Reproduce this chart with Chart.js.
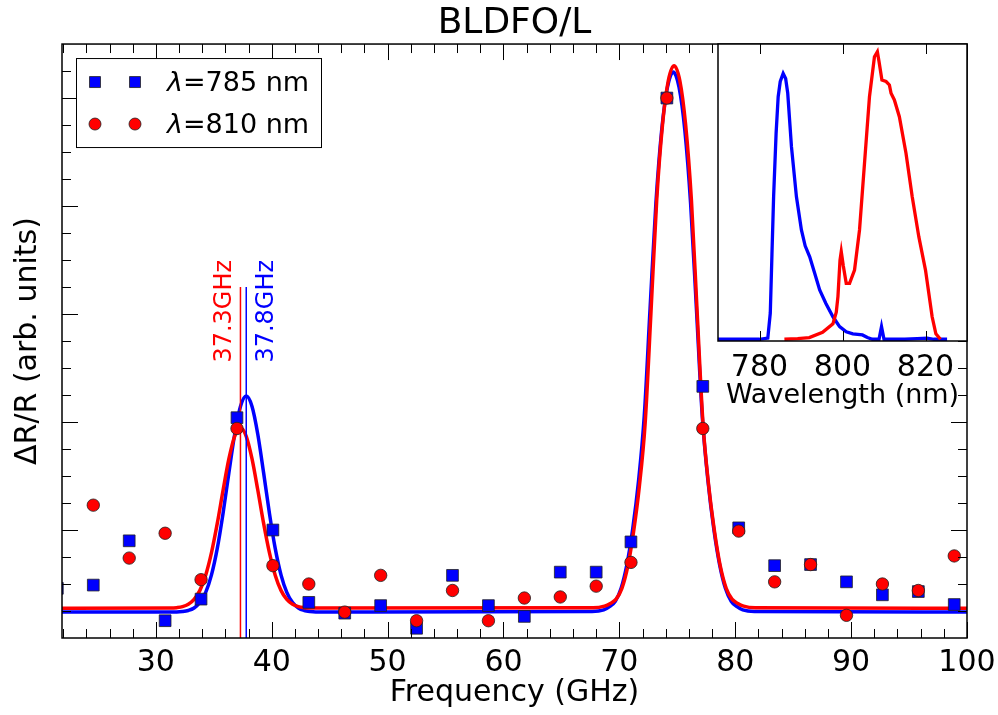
<!DOCTYPE html>
<html>
<head>
<meta charset="utf-8">
<script src="https://cdn.jsdelivr.net/npm/chart.js@4.4.1/dist/chart.umd.min.js"></script>
<style>
  html, body { margin: 0; padding: 0; background: #fff; }
  #wrap { position: relative; width: 998px; height: 715px; }
  #main { position: absolute; left: 0; top: 0; }
  #inset { position: absolute; left: 700px; top: 30px; }
</style>
</head>
<body>
<div id="wrap">
  <canvas id="main" width="998" height="715"></canvas>
  <canvas id="inset" width="298" height="400"></canvas>
</div>
<script>
// measured points (GHz, arb. units)
const freq785 = [21.5, 24.6, 27.7, 30.8, 33.9, 37.0, 40.1, 43.2, 46.3, 49.4, 52.5, 55.6, 58.7,
  61.8, 64.9, 68.0, 71.0, 74.1, 77.2, 80.3, 83.4, 86.5, 89.6, 92.7, 95.8, 98.9];
const amp785 = [0.46, 0.49, 0.90, 0.16, 0.36, 2.04, 1.00, 0.33, 0.23, 0.30, 0.09, 0.58, 0.30,
  0.20, 0.61, 0.61, 0.89, 5.00, 2.33, 1.02, 0.67, 0.68, 0.52, 0.40, 0.43, 0.31];
const freq810 = [24.6, 27.7, 30.8, 33.9, 37.0, 40.1, 43.2, 46.3, 49.4, 52.5, 55.6, 58.7,
  61.8, 64.9, 68.0, 71.0, 74.1, 77.2, 80.3, 83.4, 86.5, 89.6, 92.7, 95.8, 98.9];
const amp810 = [1.23, 0.74, 0.97, 0.54, 1.94, 0.67, 0.50, 0.24, 0.58, 0.16, 0.44, 0.16,
  0.37, 0.38, 0.48, 0.70, 5.00, 1.94, 0.99, 0.52, 0.68, 0.21, 0.50, 0.44, 0.76];

// fitted curves
const fitFreq785 = [21.9, 31.8, 32.3, 32.8, 33.3, 33.8, 34.3, 34.8, 35.3, 35.8, 36.3, 36.8, 37.3,
  37.8, 38.3, 38.8, 39.3, 39.8, 40.3, 40.8, 41.3, 41.8, 42.3, 42.8, 43.3, 43.8,
  67.65, 68.65, 69.15, 69.65, 70.15, 70.65, 71.15, 71.65, 72.15, 72.65, 73.15, 73.65, 74.15,
  74.65, 75.15, 75.65, 76.15, 76.65, 77.15, 77.65, 78.15, 78.65, 79.15, 79.65, 80.15, 80.65,
  81.65, 100];
const fit785 = [0.24, 0.241, 0.245, 0.255, 0.278, 0.328, 0.423, 0.585, 0.83, 1.156, 1.529, 1.885, 2.144,
  2.24, 2.144, 1.885, 1.529, 1.156, 0.83, 0.585, 0.423, 0.328, 0.278, 0.255, 0.245, 0.241,
  0.245, 0.26, 0.29, 0.34, 0.46, 0.68, 1.01, 1.45, 2.06, 3.05, 4.02, 4.70, 5.10,
  5.24, 5.10, 4.70, 4.02, 3.05, 2.06, 1.45, 1.01, 0.68, 0.46, 0.34, 0.29, 0.26,
  0.245, 0.24];
const fitFreq810 = [21.9, 31.3, 31.8, 32.3, 32.8, 33.3, 33.8, 34.3, 34.8, 35.3, 35.8, 36.3, 36.8,
  37.3, 37.8, 38.3, 38.8, 39.3, 39.8, 40.3, 40.8, 41.3, 41.8, 42.3, 42.8, 43.3,
  67.72, 68.72, 69.22, 69.72, 70.22, 70.72, 71.22, 71.72, 72.22, 72.72, 73.22, 73.72, 74.22,
  74.72, 75.22, 75.72, 76.22, 76.72, 77.22, 77.72, 78.22, 78.72, 79.22, 79.72, 80.22, 80.72,
  81.72, 100];
const fit810 = [0.275, 0.277, 0.281, 0.29, 0.312, 0.357, 0.441, 0.582, 0.79, 1.061, 1.368, 1.658, 1.868,
  1.945, 1.868, 1.658, 1.368, 1.061, 0.79, 0.582, 0.441, 0.357, 0.312, 0.29, 0.281, 0.277,
  0.28, 0.295, 0.32, 0.36, 0.46, 0.66, 0.98, 1.40, 1.98, 3.00, 4.05, 4.75, 5.16,
  5.30, 5.16, 4.75, 4.05, 3.00, 1.98, 1.40, 0.98, 0.66, 0.46, 0.36, 0.32, 0.295,
  0.28, 0.275];

const peakFreqs = [37.3, 37.8];
const peakTexts = ['37.3GHz', '37.8GHz'];
const xTicks = [30, 40, 50, 60, 70, 80, 90, 100];

// inset: laser spectra (nm, normalised)
const wl785 = [770, 775, 780, 782.0, 782.6, 783.0, 783.4, 784.0, 784.5, 785.0, 785.7, 786.3, 786.8,
  787.7, 788.9, 790.1, 791.0, 792.1, 793.3, 794.5, 796.0, 797.7, 799.3, 800.9, 802.5, 804.8,
  806.0, 807.2, 808.8, 809.4, 810.0, 812, 815, 818, 820.4, 822, 825.2];
const spec785 = [0.006, 0.006, 0.006, 0.01, 0.097, 0.30, 0.50, 0.72, 0.847, 0.90, 0.928, 0.91, 0.86,
  0.674, 0.50, 0.385, 0.33, 0.292, 0.235, 0.177, 0.13, 0.084, 0.05, 0.032, 0.025, 0.021,
  0.012, 0.006, 0.006, 0.05, 0.006, 0.006, 0.006, 0.008, 0.01, 0.006, 0.006];
const wl810 = [786.0, 789.2, 792.0, 795.2, 797.7, 798.5, 798.9, 799.4, 799.7, 800.2, 800.9, 801.7,
  802.9, 804.1, 805.3, 806.5, 807.7, 808.4, 808.8, 809.5, 810.5, 811.3, 811.7, 812.5, 813.7,
  815.3, 816.8, 818.4, 820.0, 821.6, 822.5, 823.6];
const spec810 = [0.006, 0.008, 0.012, 0.03, 0.06, 0.10, 0.154, 0.28, 0.31, 0.26, 0.20, 0.20,
  0.246, 0.385, 0.616, 0.847, 0.986, 1.003, 0.969, 0.905, 0.90, 0.888, 0.859, 0.836, 0.778,
  0.651, 0.50, 0.361, 0.246, 0.084, 0.025, 0.006];
const wlTicks = [780, 800, 820];

Chart.defaults.font.family = "'DejaVu Sans', sans-serif";
Chart.defaults.color = '#000';

const pts = (xs, ys) => xs.map((v, i) => ({ x: v, y: ys[i] }));

// matplotlib style ticks pointing inwards + frame
const innerTicks = {
  id: 'innerTicks',
  afterDraw(chart) {
    const { ctx, chartArea: a, scales: { x, y } } = chart;
    ctx.save();
    ctx.strokeStyle = '#000';
    ctx.lineWidth = 1;
    ctx.beginPath();
    for (let v = 22; v <= 100; v += 2) {
      const px = Math.round(x.getPixelForValue(v)) + 0.5;
      const len = v % 10 === 0 ? 16 : 9;
      ctx.moveTo(px, a.bottom); ctx.lineTo(px, a.bottom - len);
      ctx.moveTo(px, a.top); ctx.lineTo(px, a.top + len);
    }
    for (let i = 1; i < 22; i++) {
      const py = Math.round(y.getPixelForValue(i * 0.25)) + 0.5;
      const len = i % 4 === 0 ? 16 : 9;
      ctx.moveTo(a.left, py); ctx.lineTo(a.left + len, py);
      ctx.moveTo(a.right, py); ctx.lineTo(a.right - len, py);
    }
    ctx.stroke();
    ctx.lineWidth = 1.5;
    ctx.strokeRect(a.left, a.top, a.right - a.left, a.bottom - a.top);

    // legend with two markers per row
    const bx = a.left + 14, by = a.top + 14;
    ctx.fillStyle = '#fff';
    ctx.fillRect(bx, by, 245, 89);
    ctx.lineWidth = 1;
    ctx.strokeRect(bx + 0.5, by + 0.5, 245, 89);
    const rows = [
      { y: a.top + 38, color: '#0000ff', square: true, text: '=785 nm' },
      { y: a.top + 80, color: '#ff0000', square: false, text: '=810 nm' }
    ];
    rows.forEach(r => {
      [a.left + 33, a.left + 73].forEach(mx => {
        ctx.beginPath();
        if (r.square) ctx.rect(mx - 5.5, r.y - 5.5, 11, 11);
        else ctx.arc(mx, r.y, 6, 0, Math.PI * 2);
        ctx.fillStyle = r.color;
        ctx.fill();
        ctx.lineWidth = 0.8;
        ctx.strokeStyle = '#222';
        ctx.stroke();
      });
      ctx.fillStyle = '#000';
      ctx.textBaseline = 'middle';
      ctx.textAlign = 'left';
      ctx.font = "italic 27px 'DejaVu Sans'";
      const tx = a.left + 105;
      ctx.fillText('λ', tx, r.y + 2);
      const w = ctx.measureText('λ').width;
      ctx.font = "27px 'DejaVu Sans'";
      ctx.fillText(r.text, tx + w, r.y + 2);
    });
    ctx.restore();
  }
};

const peakLabels = {
  id: 'peakLabels',
  afterDatasetsDraw(chart) {
    const { ctx, scales: { x, y } } = chart;
    const colors = ['#ff0000', '#0000ff'];
    const shift = [-16, 20.5];
    ctx.save();
    ctx.font = "24px 'DejaVu Sans'";
    ctx.textBaseline = 'middle';
    ctx.textAlign = 'left';
    peakFreqs.forEach((f, i) => {
      ctx.save();
      ctx.translate(x.getPixelForValue(f) + shift[i], y.getPixelForValue(2.55));
      ctx.rotate(-Math.PI / 2);
      ctx.fillStyle = colors[i];
      ctx.fillText(peakTexts[i], 0, 0);
      ctx.restore();
    });
    ctx.restore();
  }
};

new Chart(document.getElementById('main'), {
  type: 'scatter',
  data: {
    datasets: [
      {
        type: 'line', label: 'fit 785', data: pts(fitFreq785, fit785),
        borderColor: '#0000ff', borderWidth: 3.5, pointRadius: 0,
        cubicInterpolationMode: 'monotone', order: 6
      },
      {
        type: 'line', label: 'fit 810', data: pts(fitFreq810, fit810),
        borderColor: '#ff0000', borderWidth: 3.5, pointRadius: 0,
        cubicInterpolationMode: 'monotone', order: 5
      },
      {
        type: 'line', label: peakTexts[0],
        data: [{ x: peakFreqs[0], y: 0 }, { x: peakFreqs[0], y: 3.25 }],
        borderColor: '#ff0000', borderWidth: 1.5, pointRadius: 0, order: 4
      },
      {
        type: 'line', label: peakTexts[1],
        data: [{ x: peakFreqs[1], y: 0 }, { x: peakFreqs[1], y: 3.25 }],
        borderColor: '#0000ff', borderWidth: 1.5, pointRadius: 0, order: 3
      },
      {
        label: 'λ=785 nm', data: pts(freq785, amp785),
        pointStyle: 'rect', pointRadius: 8.3,
        backgroundColor: '#0000ff', borderColor: '#222', borderWidth: 0.8, order: 2
      },
      {
        label: 'λ=810 nm', data: pts(freq810, amp810),
        pointStyle: 'circle', pointRadius: 6.2,
        backgroundColor: '#ff0000', borderColor: '#222', borderWidth: 0.8, order: 1
      }
    ]
  },
  options: {
    responsive: false,
    animation: false,
    devicePixelRatio: 1,
    layout: { autoPadding: false, padding: { left: 0, top: 0, right: 31, bottom: 0 } },
    plugins: {
      legend: { display: false },
      tooltip: { enabled: false },
      title: {
        display: true, text: 'BLDFO/L', fullSize: false, color: '#000',
        font: { size: 36, weight: 'normal', lineHeight: 1.14 },
        padding: { top: 3, bottom: 0 }
      }
    },
    scales: {
      x: {
        type: 'linear', min: 21.9, max: 100,
        afterBuildTicks: s => { s.ticks = xTicks.map(v => ({ value: v })); },
        afterFit: s => { s.height = 77; s.paddingLeft = 0; s.paddingRight = 0; },
        grid: { display: false, drawTicks: false },
        border: { display: false },
        ticks: { font: { size: 30 }, padding: 7, maxRotation: 0, autoSkip: false, color: '#000' },
        title: { display: true, text: 'Frequency (GHz)', font: { size: 30 }, padding: { top: 0, bottom: 4 }, color: '#000' }
      },
      y: {
        min: 0, max: 5.5,
        afterFit: s => { s.width = 62; },
        grid: { display: false, drawTicks: false },
        border: { display: false },
        ticks: { display: false },
        title: { display: true, text: 'ΔR/R (arb. units)', font: { size: 30 }, padding: { top: 10, bottom: 0 }, color: '#000' }
      }
    }
  },
  plugins: [innerTicks, peakLabels]
});

const insetFrame = {
  id: 'insetFrame',
  beforeDraw(chart) {
    const { ctx, chartArea: a } = chart;
    ctx.save();
    ctx.fillStyle = '#fff';
    ctx.fillRect(a.left, a.top, a.right - a.left, a.bottom - a.top);
    ctx.restore();
  },
  afterDraw(chart) {
    const { ctx, chartArea: a, scales: { x } } = chart;
    ctx.save();
    ctx.strokeStyle = '#000';
    ctx.lineWidth = 1;
    ctx.beginPath();
    wlTicks.forEach(v => {
      const px = Math.round(x.getPixelForValue(v)) + 0.5;
      ctx.moveTo(px, a.bottom); ctx.lineTo(px, a.bottom - 10);
      ctx.moveTo(px, a.top); ctx.lineTo(px, a.top + 10);
    });
    ctx.stroke();
    ctx.lineWidth = 1.5;
    ctx.strokeRect(a.left, a.top, a.right - a.left, a.bottom - a.top);
    ctx.restore();
  }
};

new Chart(document.getElementById('inset'), {
  type: 'scatter',
  data: {
    datasets: [
      {
        type: 'line', label: '785 nm', data: pts(wl785, spec785),
        borderColor: '#0000ff', borderWidth: 3.3, pointRadius: 0, order: 2
      },
      {
        type: 'line', label: '810 nm', data: pts(wl810, spec810),
        borderColor: '#ff0000', borderWidth: 3.3, pointRadius: 0, order: 1
      }
    ]
  },
  options: {
    responsive: false,
    animation: false,
    devicePixelRatio: 1,
    layout: { autoPadding: false, padding: { left: 18, top: 14, right: 31, bottom: 0 } },
    plugins: { legend: { display: false }, tooltip: { enabled: false } },
    scales: {
      x: {
        type: 'linear', min: 770, max: 830,
        afterBuildTicks: s => { s.ticks = wlTicks.map(v => ({ value: v })); },
        afterFit: s => { s.height = 89; s.paddingLeft = 0; s.paddingRight = 0; },
        grid: { display: false, drawTicks: false },
        border: { display: false },
        ticks: { font: { size: 30 }, padding: 9, maxRotation: 0, autoSkip: false, color: '#000' },
        title: { display: true, text: 'Wavelength (nm)', font: { size: 27 }, padding: { top: 0, bottom: 18 }, color: '#000' }
      },
      y: { display: false, min: 0, max: 1.03 }
    }
  },
  plugins: [insetFrame]
});
</script>
</body>
</html>
